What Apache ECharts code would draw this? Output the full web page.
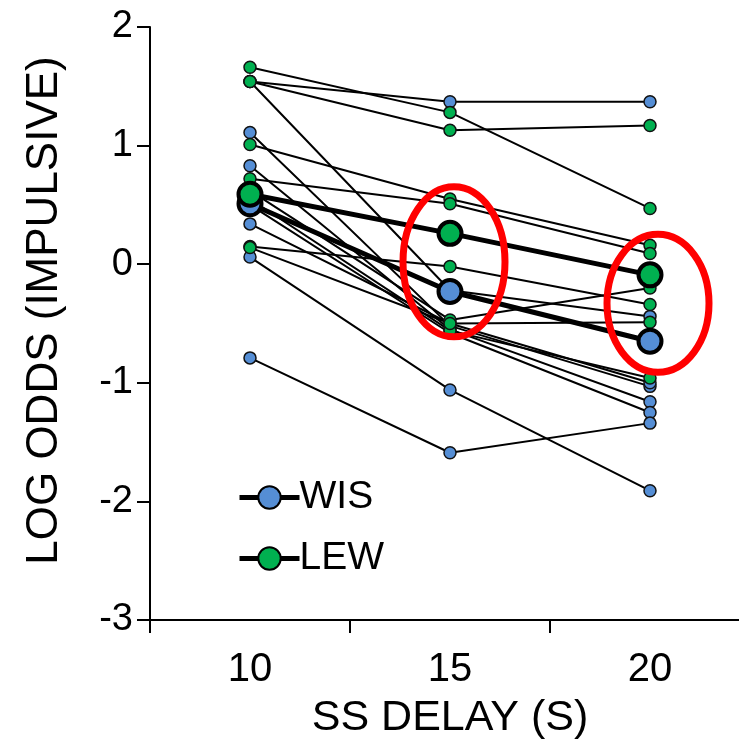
<!DOCTYPE html>
<html>
<head>
<meta charset="utf-8">
<script src="https://cdn.jsdelivr.net/npm/echarts@6/dist/echarts.min.js"></script>
<style>html,body{margin:0;padding:0;background:#fff;}#c{width:739px;height:747px;}</style>
</head>
<body>
<div id="c"></div>
<script>
const categories = ['10', '15', '20'];
const yTicks = { min: -3, max: 2, interval: 1 };

// individual subjects, WIS (blue)
const wis1 = [1.54, 1.37, 1.37];
const wis2 = [1.54, -0.22, -0.44];
const wis3 = [1.11, -0.52, -1.03];
const wis4 = [0.83, -0.55, -1.16];
const wis5 = [0.50, -0.58, -1.25];
const wis6 = [0.34, -0.50, -1.00];
const wis7 = [0.06, -1.06, -1.91];
const wis8 = [-0.79, -1.59, -1.34];

// individual subjects, LEW (green)
const lew1 = [1.66, 1.28, 0.47];
const lew2 = [1.54, 1.13, 1.17];
const lew3 = [1.01, 0.55, 0.16];
const lew4 = [0.72, 0.51, 0.09];
const lew5 = [0.62, -0.47, -0.20];
const lew6 = [0.55, -0.56, -0.96];
const lew7 = [0.15, -0.02, -0.34];
const lew8 = [0.14, -0.50, -0.49];

// group means
const wisMean = [0.51, -0.23, -0.65];
const lewMean = [0.59, 0.26, -0.09];

// red annotation ellipses: [category, value]
const ellipse1 = ['15', 0.02];
const ellipse2 = ['20', -0.33];

const BLUE = '#558ED5';
const GREEN = '#00B050';
const FONT = 'Liberation Sans, Arial, sans-serif';

const wisList = [wis1, wis2, wis3, wis4, wis5, wis6, wis7, wis8];
const lewList = [lew1, lew2, lew3, lew4, lew5, lew6, lew7, lew8];

function indiv(data, color, i, prefix) {
  return {
    name: prefix + i, type: 'line', data: data, z: 2,
    symbol: 'circle', symbolSize: 12,
    lineStyle: { color: '#000', width: 2 },
    itemStyle: { color: color, borderColor: '#111', borderWidth: 1.5 },
    emphasis: { disabled: true }, animation: false
  };
}
const series = [];
wisList.forEach((d, i) => series.push(indiv(d, BLUE, i, 'w')));
lewList.forEach((d, i) => series.push(indiv(d, GREEN, i, 'l')));
function meanSeries(name, data, color) {
  return {
    name: name, type: 'line', data: data, z: 5,
    symbol: 'circle', symbolSize: 23,
    lineStyle: { color: '#000', width: 5 },
    itemStyle: { color: color, borderColor: '#000', borderWidth: 4 },
    emphasis: { disabled: true }, animation: false
  };
}
series.push(meanSeries('WIS', wisMean, BLUE));
series.push(meanSeries('LEW', lewMean, GREEN));

const chart = echarts.init(document.getElementById('c'), null, { renderer: 'canvas' });
chart.setOption({
  animation: false,
  backgroundColor: '#fff',
  grid: { left: 150, top: 27, width: 600, height: 593, containLabel: false, outerBoundsMode: 'none' },
  legend: {
    data: ['WIS', 'LEW'], orient: 'vertical', left: 237, top: 478, padding: 0,
    itemWidth: 60, itemHeight: 28, itemGap: 22,
    lineStyle: { width: 5, color: '#000' },
    textStyle: { fontSize: 39, fontFamily: FONT, color: '#000', padding: [0, 0, 0, -5] }
  },
  xAxis: {
    type: 'category', data: categories, boundaryGap: true,
    name: 'SS DELAY (S)', nameLocation: 'middle', nameGap: 77,
    nameTextStyle: { fontSize: 43, fontFamily: FONT, color: '#000' },
    axisLine: { onZero: false, lineStyle: { color: '#000', width: 2 } },
    axisTick: { show: true, length: 13, lineStyle: { color: '#000', width: 2 } },
    axisLabel: { fontSize: 40, fontFamily: FONT, color: '#000', margin: 30 },
    splitLine: { show: false }
  },
  yAxis: {
    type: 'value', min: yTicks.min, max: yTicks.max, interval: yTicks.interval,
    name: 'LOG ODDS (IMPULSIVE)', nameLocation: 'middle', nameGap: 83,
    nameTextStyle: { fontSize: 44, fontFamily: FONT, color: '#000', padding: [0, 0, 0, 26] },
    axisLine: { show: true, onZero: false, lineStyle: { color: '#000', width: 2 } },
    axisTick: { show: true, length: 13, lineStyle: { color: '#000', width: 2 } },
    axisLabel: { fontSize: 38, fontFamily: FONT, color: '#000', margin: 17 },
    splitLine: { show: false }
  },
  series: series
});

function addEllipses() {
  const p1 = chart.convertToPixel({ gridIndex: 0 }, ellipse1);
  const p2 = chart.convertToPixel({ gridIndex: 0 }, ellipse2);
  chart.setOption({
    graphic: [
      { type: 'ellipse', shape: { cx: p1[0] + 4, cy: p1[1], rx: 51, ry: 75 },
        style: { fill: 'none', stroke: '#FF0000', lineWidth: 7 }, z: 10 },
      { type: 'ellipse', shape: { cx: p2[0] + 8, cy: p2[1], rx: 51, ry: 69 },
        style: { fill: 'none', stroke: '#FF0000', lineWidth: 7 }, z: 10 }
    ]
  });
}
addEllipses();
</script>
</body>
</html>
